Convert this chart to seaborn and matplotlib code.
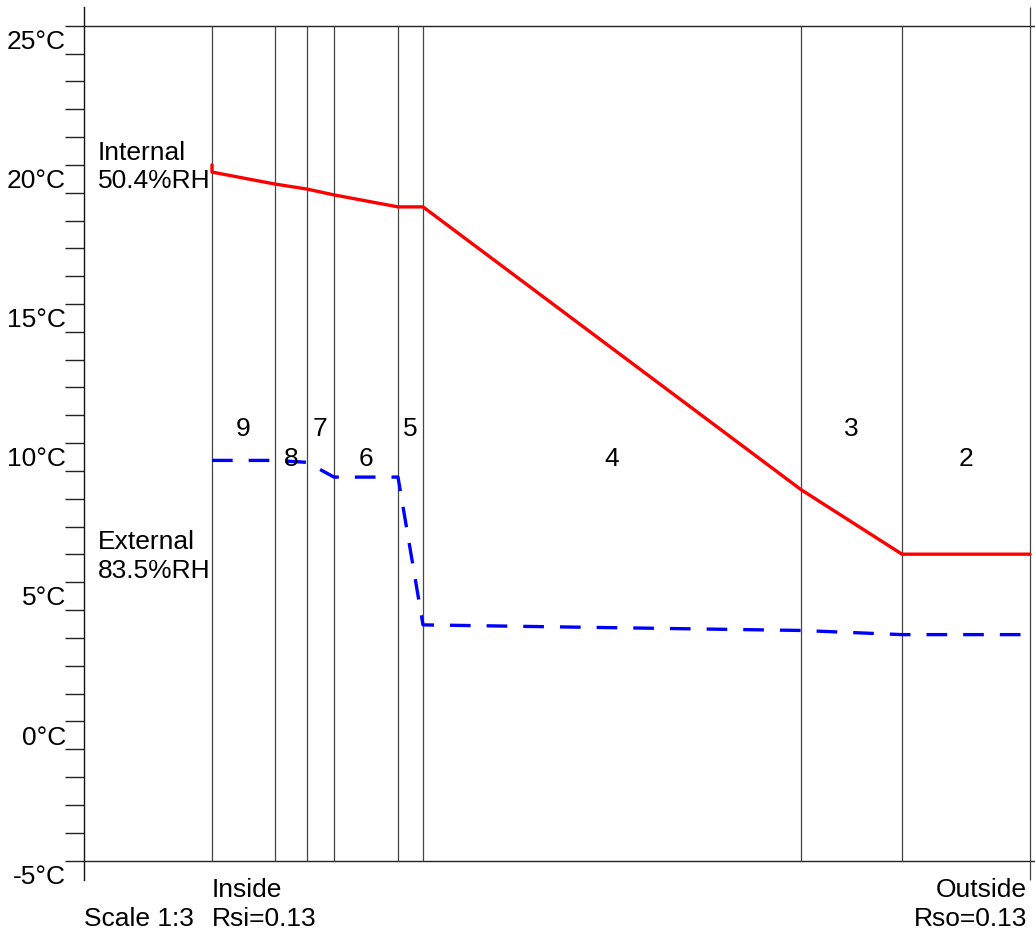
import numpy as np
import pandas as pd
import matplotlib
matplotlib.use("Agg")
import matplotlib.pyplot as plt
import seaborn as sns

# layers from inside to outside, widths in drawing units
layer_labels = ["9", "8", "7", "6", "5", "4", "3", "2"]
layer_widths = [63, 32, 27, 64, 25, 378, 101, 128]

# temperature at each interface (first red value is the internal air)
temp_air_in = 20.0
temp_interfaces = [19.74, 19.31, 19.13, 18.92, 18.49, 18.49, 8.33, 6.01, 6.01]
dewpoint_interfaces = [9.38, 9.38, 9.31, 8.78, 8.78, 3.47, 3.27, 3.12, 3.12]

y_ticks_major = [25, 20, 15, 10, 5, 0, -5]
y_tick_labels = ["25°C", "20°C", "15°C", "10°C", "5°C", "0°C", "-5°C"]

sns.set_style("white")
plt.rcParams["font.family"] = ["Liberation Sans", "DejaVu Sans"]
plt.rcParams["text.color"] = "black"

PX_PER_DEG = 27.83
TOP_TICK_PX = 25.7


def px_to_t(py):
    return 25 - (py - TOP_TICK_PX) / PX_PER_DEG


def px_to_x(px):
    return px - 212


bounds = np.concatenate([[0], np.cumsum(layer_widths)])
x_end = bounds[-1]

temp_df = pd.DataFrame({
    "x": np.concatenate([[0], bounds]),
    "t": [temp_air_in] + temp_interfaces,
})
dew_df = pd.DataFrame({"x": bounds, "t": dewpoint_interfaces})

fig = plt.figure(figsize=(10.35, 9.32), dpi=100)
ax = fig.add_axes([0, 0, 1, 1])
ax.set_xlim(px_to_x(0), px_to_x(1035))
ax.set_ylim(px_to_t(932), px_to_t(0))

for s in ["top", "right", "bottom"]:
    ax.spines[s].set_visible(False)
ax.spines["left"].set_position(("data", px_to_x(84)))
ax.spines["left"].set_bounds(px_to_t(880), px_to_t(7))
ax.spines["left"].set_color("#111111")
ax.spines["left"].set_linewidth(1.0)
ax.set_xticks([])
ax.set_yticks(np.arange(-5, 26, 1))
ax.set_yticklabels([])
ax.tick_params(axis="y", direction="out", length=13.7, width=1.0, color="#222222", left=True)

# frame lines at 25 and -5
ax.hlines([25, -5], px_to_x(84), px_to_x(1035), color="#222222", lw=1.0)

# layer boundaries
ax.vlines(bounds[:-1], -5, 25, color="#444444", lw=0.9)
ax.vlines([x_end], px_to_t(880), px_to_t(7), color="#444444", lw=0.9)

sns.lineplot(data=temp_df, x="x", y="t", ax=ax, color="#ff0000", lw=2.4,
             sort=False, estimator=None)
sns.lineplot(data=dew_df, x="x", y="t", ax=ax, color="#0000ff", lw=2.4,
             sort=False, estimator=None)
ax.lines[-1].set_dashes((6.2, 4.8))
ax.set_xlabel("")
ax.set_ylabel("")

fs = 19
for v, lab in zip(y_ticks_major, y_tick_labels):
    ax.text(px_to_x(66), v - 0.58, lab, ha="right", va="center", fontsize=fs)

# layer numbers, alternating heights
for i, lab in enumerate(layer_labels):
    xc = (bounds[i] + bounds[i + 1]) / 2
    yy = px_to_t(429) if i % 2 == 0 else px_to_t(459)
    ax.text(xc, yy, lab, ha="center", va="center", fontsize=fs)

ax.text(px_to_x(98), px_to_t(153), "Internal", ha="left", va="center", fontsize=fs)
ax.text(px_to_x(98), px_to_t(181), "50.4%RH", ha="left", va="center", fontsize=fs)
ax.text(px_to_x(98), px_to_t(542), "External", ha="left", va="center", fontsize=fs)
ax.text(px_to_x(98), px_to_t(571), "83.5%RH", ha="left", va="center", fontsize=fs)

ax.text(0, px_to_t(890), "Inside", ha="left", va="center", fontsize=fs)
ax.text(0, px_to_t(919), "Rsi=0.13", ha="left", va="center", fontsize=fs)
ax.text(px_to_x(84), px_to_t(919), "Scale 1:3", ha="left", va="center", fontsize=fs)
ax.text(x_end - 3, px_to_t(890), "Outside", ha="right", va="center", fontsize=fs)
ax.text(x_end - 3, px_to_t(919), "Rso=0.13", ha="right", va="center", fontsize=fs)

fig.savefig("out.png", dpi=100)
